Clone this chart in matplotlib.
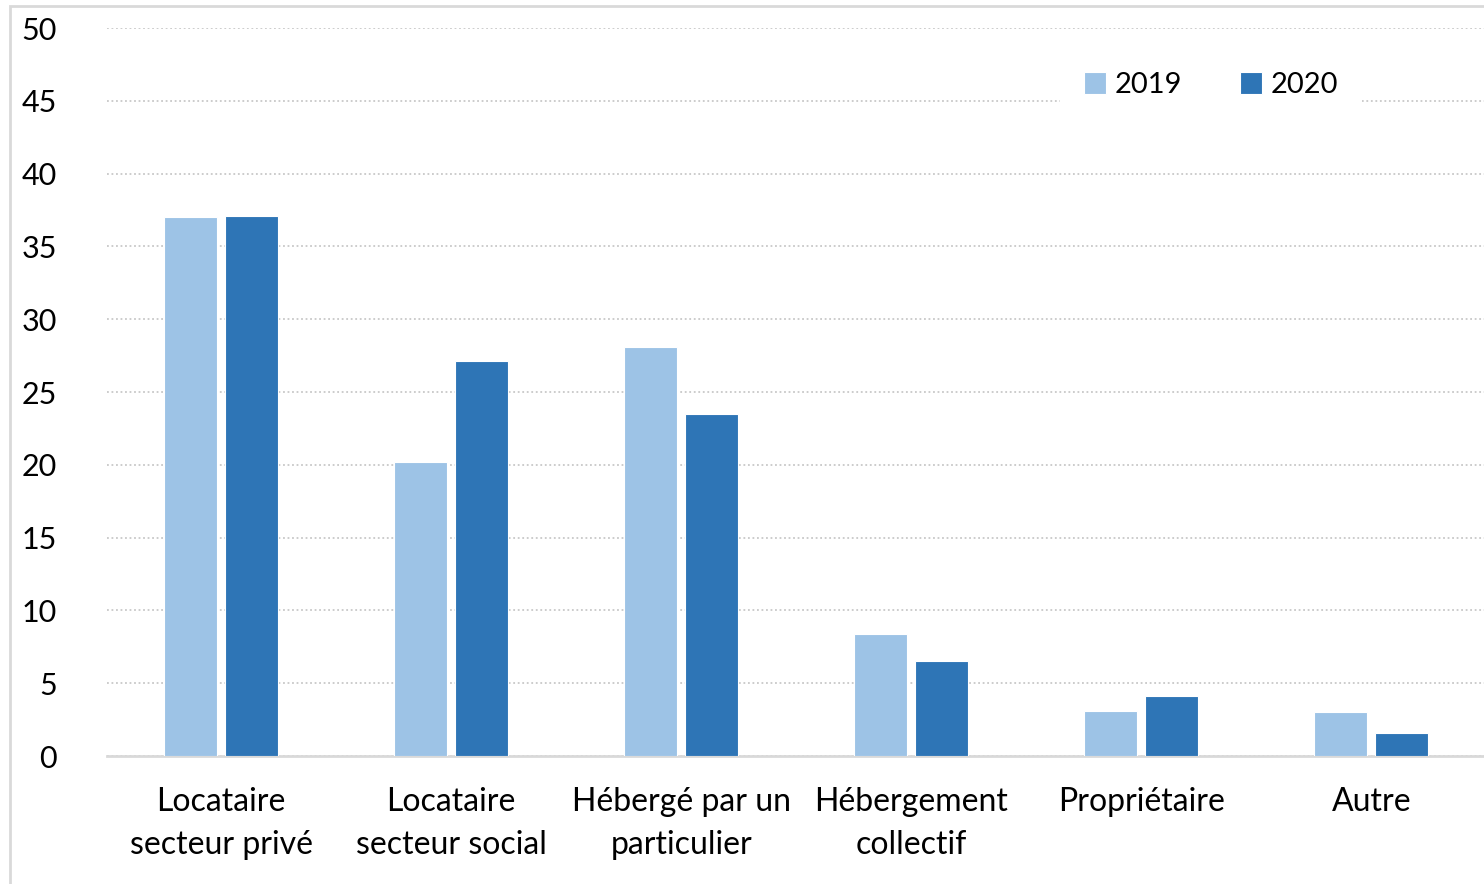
import numpy as np
import matplotlib.pyplot as plt
from matplotlib.patches import Rectangle

categories = ["Locataire\nsecteur privé", "Locataire\nsecteur social",
              "Hébergé par un\nparticulier", "Hébergement\ncollectif",
              "Propriétaire", "Autre"]
v2019 = [37.0, 20.2, 28.1, 8.4, 3.1, 3.0]
v2020 = [37.1, 27.1, 23.5, 6.5, 4.1, 1.6]
yticks = [0, 5, 10, 15, 20, 25, 30, 35, 40, 45, 50]

plt.rcParams['font.family'] = ['Lato', 'DejaVu Sans']

fig = plt.figure(figsize=(14.84, 8.84), dpi=100)
ax = fig.add_axes([107/1484, 1-756/884, 1-107/1484, (756-28)/884])

# light frame around the whole picture
fig.patches.append(Rectangle((10/1484, -0.1), 1.2, 1-6/884+0.1,
                             transform=fig.transFigure, fill=False,
                             edgecolor='#d9d9d9', lw=2, zorder=0))

x = np.arange(len(categories))
w = 0.23
off = 0.1326
ax.bar(x - off, v2019, w, color='#9dc3e6', edgecolor='white', lw=0.8, label='2019', zorder=3)
ax.bar(x + off, v2020, w, color='#2e75b6', edgecolor='white', lw=0.8, label='2020', zorder=3)

ax.set_xlim(-0.496, 5.49)
ax.set_ylim(0, 50)
ax.set_yticks(yticks)
ax.set_xticks(x)
ax.set_xticklabels(categories, fontsize=23, linespacing=1.55)
ax.tick_params(axis='y', length=0, pad=36, labelsize=22)
ax.tick_params(axis='x', length=0, pad=22)

ax.grid(axis='y', ls=(0, (1, 1.5)), color='#c8c8c8', lw=1.3, zorder=0)
for s in ['top', 'right', 'left']:
    ax.spines[s].set_visible(False)
ax.spines['bottom'].set_color('#d9d9d9')
ax.spines['bottom'].set_linewidth(2)

leg = ax.legend(loc='center', bbox_to_anchor=((1211-107)/1377, (756-85)/728),
                ncol=2, fontsize=21, frameon=True, fancybox=False,
                edgecolor='white', framealpha=1, handlelength=0.75,
                handleheight=0.75, handletextpad=0.3, columnspacing=2.0,
                borderpad=0.8, borderaxespad=0)
leg.get_frame().set_linewidth(0)

fig.savefig('out.png', dpi=100)
